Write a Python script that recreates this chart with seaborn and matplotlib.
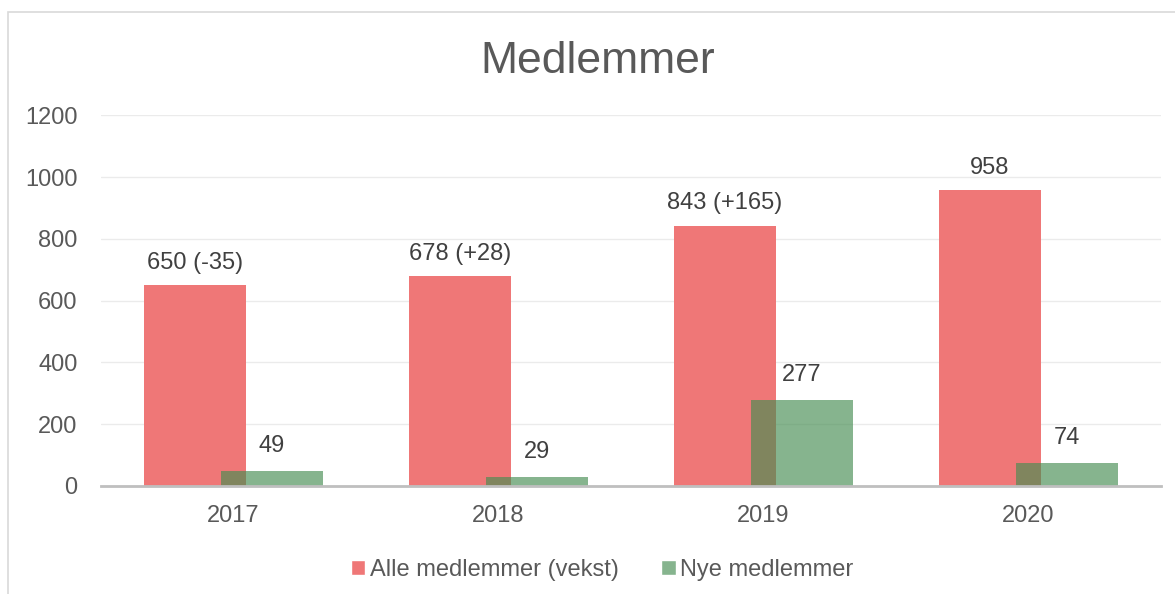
import matplotlib
matplotlib.use("Agg")
from matplotlib import pyplot as plt
from matplotlib.patches import Rectangle
import pandas as pd
import seaborn as sns

years = ['2017', '2018', '2019', '2020']
alle_medlemmer = [650, 678, 843, 958]
vekst = [-35, 28, 165, None]
nye_medlemmer = [49, 29, 277, 74]

serie_alle = 'Alle medlemmer (vekst)'
serie_nye = 'Nye medlemmer'

df = pd.DataFrame({
    'aar': years * 2,
    'antall': alle_medlemmer + nye_medlemmer,
    'serie': [serie_alle] * 4 + [serie_nye] * 4,
})

sns.set_style('white')
plt.rcParams['font.family'] = ['Liberation Sans', 'DejaVu Sans']

fig = plt.figure(figsize=(11.75, 5.94), dpi=100)
ax = fig.add_axes([0.086, 0.182, 0.902, 0.624])

farger = {serie_alle: (0.937, 0.467, 0.467), serie_nye: (0.27, 0.553, 0.318, 0.65)}
sns.barplot(data=df, x='aar', y='antall', hue='serie', hue_order=[serie_alle, serie_nye],
            palette=farger, dodge=True, width=0.58, saturation=1, ax=ax)

# gjør søylene bredere så de overlapper som i Excel
bredde = 0.385
for p in ax.patches:
    if p.get_height() == 0 and p.get_width() == 0:
        continue
    c = p.get_x() + p.get_width() / 2
    p.set_width(bredde)
    p.set_x(c - bredde / 2)
    p.set_linewidth(0)

for p in ax.patches:
    if p.get_facecolor()[1] > 0.5 and p.get_facecolor()[0] < 0.5:
        p.set_alpha(0.65)

etiketter_alle = [f'{a} ({v:+d})' if v is not None else f'{a}' for a, v in zip(alle_medlemmer, vekst)]
etiketter_nye = [str(n) for n in nye_medlemmer]
ax.bar_label(ax.containers[0], labels=etiketter_alle, padding=8, fontsize=17, color='#404040')
ax.bar_label(ax.containers[1], labels=etiketter_nye, padding=10, fontsize=17, color='#404040')

ax.set_ylim(0, 1200)
ax.set_xlim(-0.5, 3.5)
ax.set_yticks(range(0, 1201, 200))
ax.yaxis.grid(True, color='#EBEBEB', linewidth=1)
ax.set_axisbelow(True)
for s in ['top', 'right', 'left']:
    ax.spines[s].set_visible(False)
ax.spines['bottom'].set_color('#BFBFBF')
ax.spines['bottom'].set_linewidth(2)
ax.tick_params(axis='both', length=0, labelsize=17, labelcolor='#595959')
ax.tick_params(axis='y', pad=17)
ax.tick_params(axis='x', pad=14)
ax.set_xlabel('')
ax.set_ylabel('')

leg = ax.legend(loc='upper center', bbox_to_anchor=(0.473, -0.14), ncol=2, frameon=False,
                fontsize=17, handlelength=0.6, handleheight=0.6, handletextpad=0.2,
                columnspacing=1.8, labelcolor='#595959')
for h in leg.legend_handles:
    h.set_alpha(None)

fig.text(0.509, 0.897, 'Medlemmer', ha='center', va='center', fontsize=32, color='#595959')

fig.patches.append(Rectangle((0.007, -0.01), 1.0, 0.99, transform=fig.transFigure,
                             fill=False, edgecolor='#D9D9D9', linewidth=1.2))

fig.savefig('out.png', dpi=100)
